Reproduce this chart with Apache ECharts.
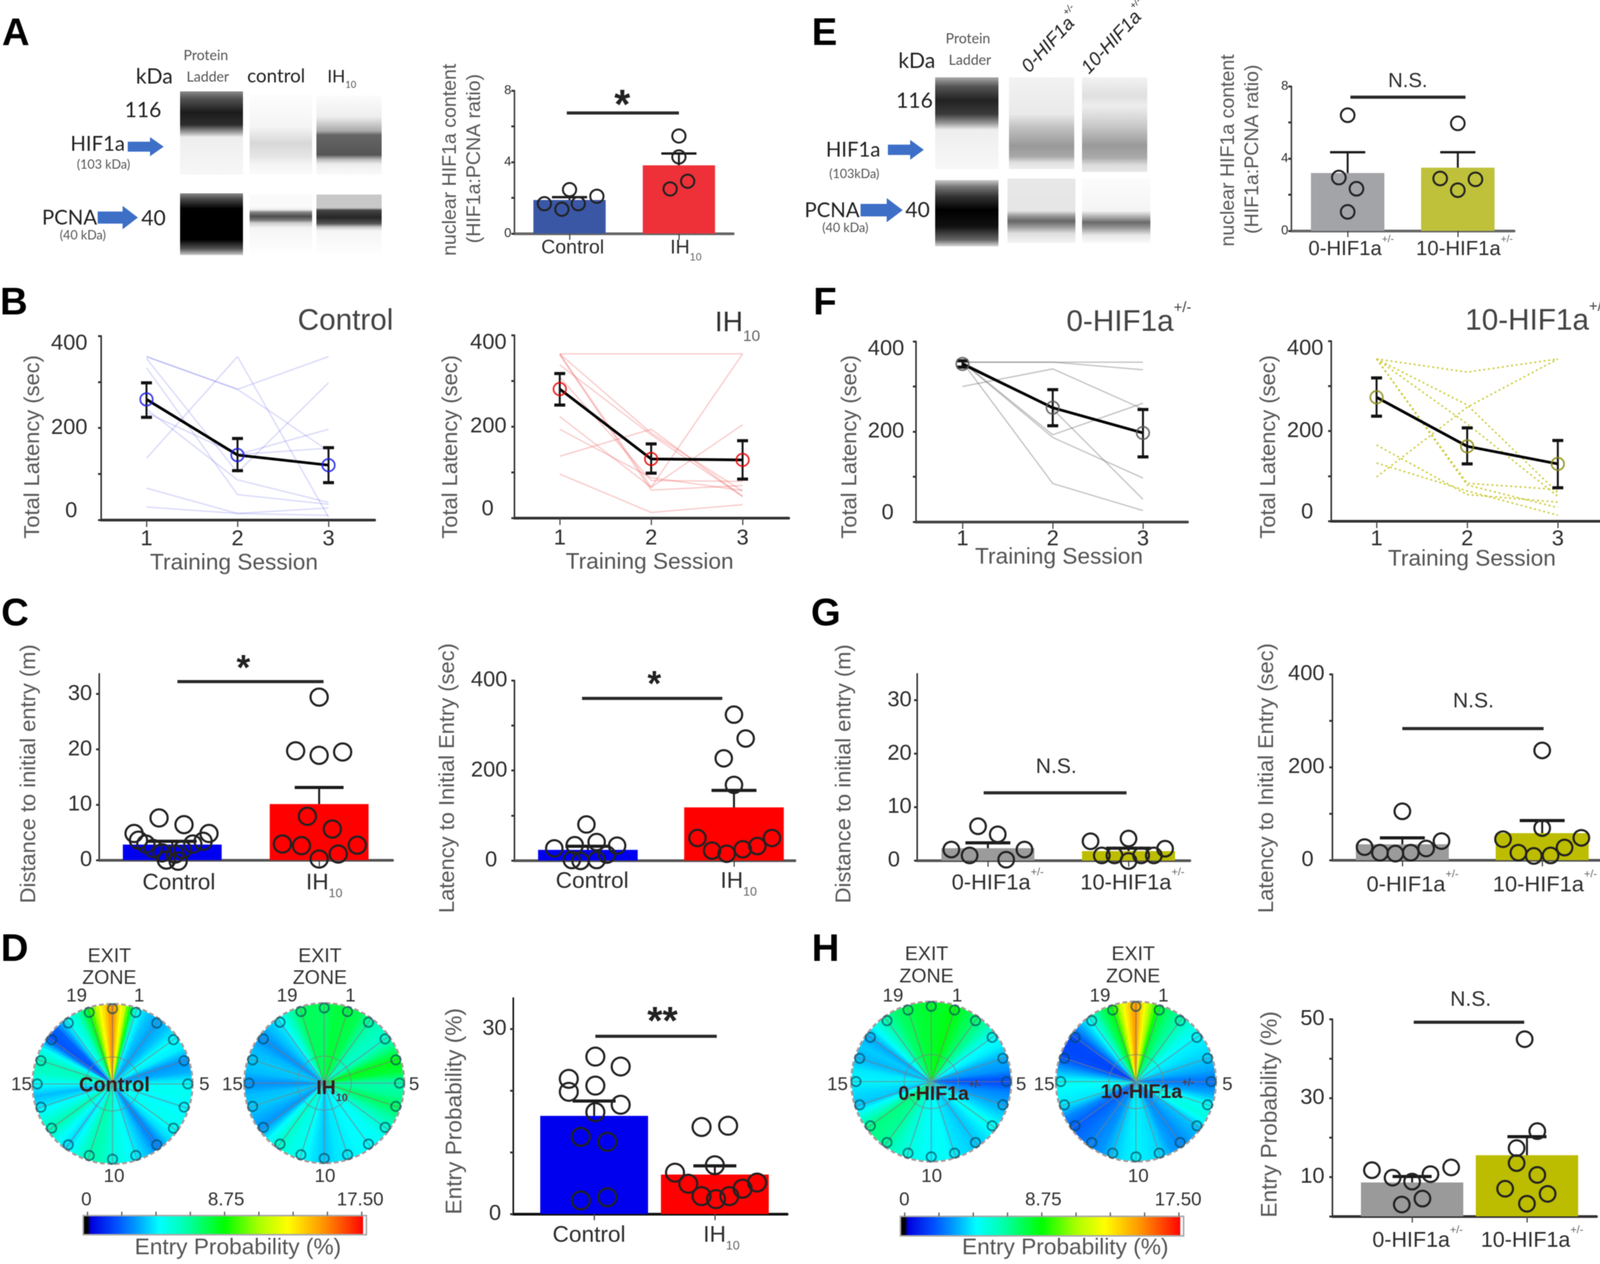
<!DOCTYPE html>
<html><head><meta charset="utf-8">
<style>html,body{margin:0;background:#fff}#c{width:4130px;height:3236px;filter:blur(1.2px)}</style>
<script src="https://cdn.jsdelivr.net/npm/echarts@6/dist/echarts.min.js"></script>
</head><body><div id="c"></div>
<script>
/* ---------- data ---------- */
const catIH=['Control','IH10'];
const catHIF=['0-HIF1a+/-','10-HIF1a+/-'];
const sessions=['1','2','3'];

// A
const a_means=[1.88,3.82], a_err=[2.04,4.48];
const a_pts1=[[.77,1.67],[.93,1.36],[1.08,1.67],[1,2.46],[1.25,2.09]];
const a_pts2=[[1.92,2.5],[2.08,2.93],[2,4.29],[2,5.46]];
// E
const e_means=[3.2,3.5], e_err=[4.35,4.35];
const e_pts1=[[1,6.4],[.92,2.95],[1.08,2.33],[1,1.05]];
const e_pts2=[[2,5.95],[1.84,2.9],[2.16,2.85],[2,2.25]];
// B
const b1_lines=[[355,284,355],[355,284,150],[134,355,6],[331,55,34],[351,103,298],[233,142,156],[265,142,197],[69,14,26],[28,14,10],[241,87,38]];
const b1_mean=[262,141,119], b1_lo=[223,107,81], b1_hi=[298,177,157];
const b2_lines=[[359,359,359],[359,67,359],[359,186,59],[335,182,47],[194,88,60],[135,194,47],[96,12,29],[357,61,71],[308,82,80],[222,67,204]];
const b2_mean=[282,129,127], b2_lo=[247,98,85], b2_hi=[316,162,169];
// F
const f1_lines=[[354,354,354],[354,354,337],[300,339,250],[354,193,263],[354,187,97],[354,250,50],[354,85,25]];
const f1_mean=[350,253,197], f1_lo=[343,213,144], f1_hi=[357,293,249];
const f2_lines=[[360,331,360],[360,258,63],[360,216,55],[360,84,70],[169,59,42],[129,67,13],[98,253,360],[360,80,30]];
const f2_mean=[275,166,127], f2_lo=[233,127,74], f2_hi=[318,207,179];
// C
const c1_means=[2.8,10.1], c1_err=[3.4,13.1];
const c1_pts1=[[.91,7.6],[1.08,6.4],[.74,4.8],[1.25,4.8],[.77,3.6],[1.21,3.4],[.82,2.9],[1.14,2.9],[.87,2.1],[1.07,1.9],[.93,1.3],[1.02,1.1],[.96,0],[1.04,-.2]];
const c1_pts2=[[2,29.4],[1.84,19.7],[2,18.9],[2.16,19.5],[1.92,7.9],[2.09,5.6],[1.75,2.9],[1.88,2.6],[2.26,2.7],[2.13,1.1],[2,.2]];
const c2_means=[23.6,118], c2_err=[31.6,155.7];
const c2_pts1=[[.99,80],[.77,27],[.91,34],[1.06,41],[1.2,33],[1.13,13],[1.06,1],[.95,-1],[.89,1]];
const c2_pts2=[[2,324],[2.08,271],[1.93,227],[2,168],[1.75,50],[1.85,22],[1.95,15],[2.06,25],[2.16,32],[2.26,50]];
// G
const g1_means=[2.3,1.75], g1_err=[3.3,2.3];
const g1_pts1=[[.93,6.4],[1.07,4.9],[.74,2.05],[.87,.95],[1.13,.15],[1.26,2.05]];
const g1_pts2=[[1.73,3.6],[2,4.1],[2.26,2.2],[1.81,.95],[1.9,.95],[2.09,.95],[2.18,.95],[2,-.1]];
const g2_means=[34,58], g2_err=[48,85];
const g2_pts1=[[1,105],[.73,28],[1.28,41],[1.17,25],[.84,16],[.95,14],[1.06,16]];
const g2_pts2=[[2,236],[2,69],[1.72,45],[2.28,48],[2.16,27],[1.83,16],[1.94,9],[2.06,10]];
// D
const d_means=[15.9,6.4], d_err=[18.3,7.8];
const d_pts1=[[1.01,25.5],[1.22,23.9],[.79,21.9],[.79,19.8],[1.01,20.8],[1.22,17.7],[1.01,16.5],[.89,12.5],[1.11,11.7],[.89,2.2],[1.11,2.7]];
const d_pts2=[[1.89,14.1],[2.11,14.3],[2,7.9],[1.67,6.7],[1.78,4.9],[1.89,2.9],[2.01,2.4],[2.12,2.9],[2.23,4.1],[2.35,5.1]];
// H
const h_means=[8.6,15.5], h_err=[10.1,20.2];
const h_pts1=[[.65,11.7],[.83,9.8],[1,8.8],[1.16,10.7],[1.34,12.4],[1.09,4.5],[.91,3]];
const h_pts2=[[1.98,44.9],[2.09,21.6],[1.91,17.3],[1.91,13.5],[2.09,10.5],[1.81,7],[2.18,5.7],[2,3.2]];
// circular maps: entry probability (%) at half-zone steps, clockwise from the top
const map_control=[15.2,11.5,4.9,3.9,3.4,3.9,4.8,4.5,3.2,3.6,4.8,5,4.6,4.9,4.9,4.2,2.8,3.8,4.5,5,5.3,6.1,6.3,5.3,4.2,5,6.3,5.3,4.5,3.8,4.8,5.8,6.1,4.9,2.1,2.4,4.6,5.8,8.4,12.5];
const map_ih=[7.4,7.9,7.9,7.6,6.6,6,5.8,7,8.5,8,6.3,6.6,7.5,6.5,5.5,4.9,4.7,4.7,4.5,4.4,3.9,4.4,5,5.2,5.8,4.7,3.2,3.6,4,3.8,3.1,3.8,4,3.7,3.1,3.8,4.4,6,7.5,7.5];
const map_0hif=[8.2,8.3,8.6,7.8,7.2,6.3,4.9,4.5,3.6,3.2,1.9,3,3.5,4.2,5,4.4,3.9,4.2,4.4,4.9,4.6,5,5.3,5.8,6.6,6.8,7,5.5,3.9,4.2,4.6,4.4,3.7,4,3.5,5,6.3,7.2,7.7,8];
const map_10hif=[15,11.5,8,7,6.3,5.3,4.6,4.4,4,3.5,2.6,3.5,4.9,5.3,3.9,3.5,3,3.4,4.2,4.4,4.6,4.4,3.9,3.2,2.9,2.6,2.3,3,4.4,4.6,4.9,3.5,2.1,1.9,2,3.5,5,7,8.5,12.5];
const zoneIds=[0,1,2,3,4,5,6,7,8,9,10,11,12,13,14,15,16,17,18,19];
const colorbarStops=[[0,'#000'],[.018,'#000'],[.03,'#0000e0'],[.12,'#0050ff'],[.19,'#009cff'],[.27,'#00ffff'],[.36,'#00ffb0'],[.5,'#00ff00'],[.62,'#aaff00'],[.72,'#ffff00'],[.85,'#ff9000'],[.975,'#ff1000'],[.985,'#ff0000'],[.986,'#fff'],[1,'#fff']];
// gel lane density profiles (position along lane, grey level)
const gelA_lad1=[[0,'#8a8a8a'],[.08,'#555'],[.25,'#1c1c1c'],[.4,'#2c2c2c'],[.5,'#aaa'],[.55,'#eee'],[1,'#f7f7f7']];
const gelA_c1=[[0,'#fdfdfd'],[.4,'#f5f5f5'],[.61,'#d8d8d8'],[.78,'#e6e6e6'],[.88,'#f5f5f5'],[1,'#fbfbfb']];
const gelA_i1=[[0,'#fcfcfc'],[.27,'#eee'],[.45,'#aaa'],[.5,'#666'],[.75,'#555'],[.81,'#bbb'],[.87,'#eee'],[1,'#fafafa']];
const gelA_lad2=[[0,'#888'],[.1,'#444'],[.25,'#000'],[.75,'#000'],[.9,'#555'],[1,'#ccc']];
const gelA_c2=[[0,'#fafafa'],[.2,'#fafafa'],[.25,'#eee'],[.29,'#888'],[.36,'#4d4d4d'],[.42,'#777'],[.47,'#ccc'],[.55,'#f5f5f5'],[1,'#fff']];
const gelA_i2=[[0,'#c8c8c8'],[.22,'#c8c8c8'],[.26,'#444'],[.38,'#262626'],[.48,'#555'],[.54,'#ccc'],[.6,'#f5f5f5'],[1,'#fff']];
const gelE_lad1=[[0,'#aaa'],[.1,'#555'],[.25,'#222'],[.4,'#3a3a3a'],[.5,'#999'],[.57,'#eee'],[1,'#f8f8f8']];
const gelE_a1=[[0,'#f2f2f2'],[.4,'#eaeaea'],[.55,'#c0c0c0'],[.75,'#999'],[.86,'#a8a8a8'],[.93,'#e0e0e0'],[1,'#eee']];
const gelE_b1=[[0,'#f2f2f2'],[.2,'#e0e0e0'],[.3,'#eee'],[.5,'#ccc'],[.72,'#9a9a9a'],[.85,'#aaa'],[.93,'#ddd'],[1,'#e6e6e6']];
const gelE_lad2=[[0,'#ccc'],[.1,'#777'],[.25,'#333'],[.45,'#000'],[.7,'#111'],[.9,'#666'],[1,'#ddd']];
const gelE_a2=[[0,'#e8e8e8'],[.5,'#e6e6e6'],[.58,'#999'],[.66,'#666'],[.75,'#999'],[.85,'#ddd'],[1,'#f5f5f5']];
const gelE_b2=[[0,'#fcfcfc'],[.5,'#f5f5f5'],[.6,'#aaa'],[.68,'#6a6a6a'],[.77,'#999'],[.88,'#e8e8e8'],[1,'#fafafa']];

/* ---------- helpers ---------- */
const FF='Liberation Sans', LATO='Lato';
const grids=[],xAxes=[],yAxes=[],series=[],gfx=[],polars=[],angleAxes=[],radiusAxes=[];

function parts(label){
  if(label==='IH10') return ['IH','s','10'];
  if(label.endsWith('+/-')) return [label.slice(0,-3),'u','+/-'];
  return [label,null,null];
}
function rt(label,F,o={}){
  const [m,k,e]=parts(label);
  const c=o.color||'#2e2e2e', fam=o.family||FF, w=o.weight||'normal', st=o.style||'normal';
  const base={fontFamily:fam,fontWeight:w,fontStyle:st};
  const rich={m:{...base,fontSize:F,lineHeight:F*1.5,color:c,fill:c},
    s:{...base,fontSize:F*.55,verticalAlign:'bottom',color:o.subColor||c,fill:o.subColor||c},
    u:{...base,fontSize:F*.5,lineHeight:F*.5,verticalAlign:'top',color:o.subColor||c,fill:o.subColor||c}};
  return {text:k?`{m|${m}}{${k}|${e}}`:`{m|${m}}`,rich};
}
function t(x,base,label,F,o={}){
  const r=rt(label,F,o);
  gfx.push({type:'text',x:x,y:base-.35*F,rotation:o.rot||0,z:20,
    style:{x:0,y:0,text:r.text,rich:r.rich,align:o.align||'center',verticalAlign:'middle'}});
}
function ytitle(cx,cy,label,F,o={}){
  gfx.push({type:'text',x:cx,y:cy,rotation:Math.PI/2,z:20,
    style:{x:0,y:0,text:label,align:'center',verticalAlign:'middle',fill:o.color||'#5a5a5a',
      font:`${F}px "Liberation Sans"`}});
}
function star(x,cy,s,F){
  gfx.push({type:'text',x:x,y:cy+.23*F,z:20,style:{x:0,y:0,text:s,align:'center',verticalAlign:'middle',fill:'#222',font:`bold ${F}px "Liberation Sans"`}});
}
function gel(x1,y1,x2,y2,stops){
  gfx.push({type:'rect',z:1,shape:{x:x1,y:y1,width:x2-x1,height:y2-y1},
    style:{fill:new echarts.graphic.LinearGradient(0,0,0,1,stops.map(s=>({offset:s[0],color:s[1]})))}});
}
function arrow(x1,y1,x2,y2){
  const h=y2-y1,w=x2-x1,hx=x1+.62*w,m=(y1+y2)/2,sh=.26*h;
  gfx.push({type:'polygon',z:2,shape:{points:[[x1,m-sh],[hx,m-sh],[hx,y1],[x2,m],[hx,y2],[hx,m+sh],[x1,m+sh]]},style:{fill:'#3d6fc7'}});
}
function addAxes(p){
  const i=grids.length;
  grids.push({left:p.L,top:p.T,width:p.R-p.L,height:p.B-p.T});
  const unit=p.cx[1]-p.cx[0];
  const xmin=1-(p.cx[0]-p.L)/unit, xmax=2+(p.R-p.cx[1])/unit;
  const xLab=p.xlabels, xv=xLab.map((_,k)=>k+1), F=p.xF;
  const rich={};
  const shifts=p.xShift||xLab.map(()=>0);
  xLab.forEach((lab,k)=>{
    const r=rt(lab,F,{color:p.xColor||'#2e2e2e',subColor:'#666'});
    const sh=shifts[k]||0;
    rich['m'+k]={...r.rich.m,padding:[0,0,0,sh>0?2*sh:0]};
    rich['e'+k]={...(parts(lab)[1]==='s'?r.rich.s:r.rich.u),padding:[0,sh<0?-2*sh:0,0,0]};
    if(sh<0&&!parts(lab)[1]) rich['m'+k].padding=[0,-2*sh,0,0];
  });
  xAxes.push({gridIndex:i,type:'value',min:xmin,max:xmax,
    axisLine:{show:true,onZero:false,lineStyle:{color:p.xAxisColor||'#555',width:p.xAxisW||7}},
    axisTick:{show:true,customValues:xv,length:p.xTick||16,lineStyle:{color:'#444',width:3}},
    splitLine:{show:false},
    axisLabel:{show:true,customValues:xv,margin:p.xBase-p.B-1.1*F,rich,
      formatter:v=>{const k=Math.round(v)-1,[m,kk,e]=parts(xLab[k]);return kk?`{m${k}|${m}}{e${k}|${e}}`:`{m${k}|${m}}`;}}});
  const yrich={n:{fontSize:p.yF,fontFamily:FF,color:'#2e2e2e'},
    dn:{fontSize:p.yF,fontFamily:FF,color:'#2e2e2e',padding:[2*(p.yDn||0),0,0,0]},
    up:{fontSize:p.yF,fontFamily:FF,color:'#2e2e2e',padding:[0,p.yZeroR||0,2*(p.yUp||0),0]}};
  yAxes.push({gridIndex:i,type:'value',min:0,max:p.ymax,
    axisLine:{show:true,onZero:false,lineStyle:{color:p.yAxisColor||'#333',width:4}},
    axisTick:{show:true,customValues:p.yticks,length:8,lineStyle:{color:'#333',width:5}},
    splitLine:{show:false},
    axisLabel:{show:true,customValues:p.ylabels,margin:p.yMargin||12,rich:yrich,
      formatter:v=>{const key=(v===p.ylabels[p.ylabels.length-1]&&p.yDn)?'dn':(v===0&&(p.yUp||p.yZeroR))?'up':'n';return `{${key}|${v}}`;}}});
  return i;
}
const errRender=(cap,lw,capW,col)=>(pa,api)=>{
  const x=api.value(0),a=api.coord([x,api.value(1)]),b=api.coord([x,api.value(2)]);
  const ln=(x1,y1,x2,y2,w)=>({type:'line',shape:{x1,y1,x2,y2},style:{stroke:col,lineWidth:w}});
  const ch=[ln(a[0],a[1],b[0],b[1],lw),ln(b[0]-cap/2,b[1],b[0]+cap/2,b[1],capW)];
  if(api.value(3)) ch.push(ln(a[0]-cap/2,a[1],a[0]+cap/2,a[1],capW));
  return {type:'group',children:ch};
};
function barPanel(p,means,errs,pts1,pts2,colors,sig){
  const i=addAxes(p);
  series.push({type:'bar',xAxisIndex:i,yAxisIndex:i,barWidth:p.barW,z:2,barGap:'-100%',
    data:means.map((v,k)=>({value:[k+1,v],itemStyle:{color:colors[k]}}))});
  series.push({type:'custom',xAxisIndex:i,yAxisIndex:i,z:5,clip:false,encode:{x:0,y:[1,2]},
    renderItem:errRender(p.cap,p.errW||5,p.capW||8,'#1a1a1a'),data:means.map((v,k)=>[k+1,v,errs[k],0])});
  [pts1,pts2].forEach(d=>series.push({type:'scatter',xAxisIndex:i,yAxisIndex:i,z:6,clip:false,
    symbol:'circle',symbolSize:p.dot,
    itemStyle:{color:'rgba(0,0,0,0)',borderColor:'#222',borderWidth:p.dotW||5,opacity:1},data:d}));
  series.push({type:'line',xAxisIndex:i,yAxisIndex:i,z:4,clip:false,symbol:'none',
    lineStyle:{color:'#2a2a2a',width:p.sigW||8},data:sig});
}
function linePanel(p,lines,mean,lo,hi,lineStyle,markCol){
  const i=addAxes(p);
  const xs=sessions.map(Number);
  lines.forEach(l=>series.push({type:'line',xAxisIndex:i,yAxisIndex:i,z:2,symbol:'none',clip:false,
    lineStyle,data:l.map((v,k)=>[xs[k],v])}));
  series.push({type:'line',xAxisIndex:i,yAxisIndex:i,z:4,symbol:'none',clip:false,
    lineStyle:{color:'#000',width:7},data:mean.map((v,k)=>[xs[k],v])});
  series.push({type:'custom',xAxisIndex:i,yAxisIndex:i,z:5,clip:false,encode:{x:0,y:[1,2]},
    renderItem:errRender(28,5,8,'#111'),data:mean.map((v,k)=>[xs[k],lo[k],hi[k],1])});
  series.push({type:'scatter',xAxisIndex:i,yAxisIndex:i,z:6,clip:false,symbol:'circle',symbolSize:32,
    itemStyle:{color:'rgba(0,0,0,0)',borderColor:markCol,borderWidth:4.5},data:mean.map((v,k)=>[xs[k],v])});
}
function jet(v){
  const f=Math.min(1,Math.max(0,v/17.5));
  for(let k=1;k<colorbarStops.length;k++){
    if(f<=colorbarStops[k][0]){
      const a=colorbarStops[k-1],b=colorbarStops[k];
      const u=(f-a[0])/((b[0]-a[0])||1);
      const ca=echarts.color.parse(a[1]),cb=echarts.color.parse(b[1]);
      return `rgb(${[0,1,2].map(n=>Math.round(ca[n]+(cb[n]-ca[n])*u)).join(',')})`;
    }
  }
  return '#f00';
}
// shading of the map: each read sample is blended towards the next across a few thin sectors, as a heat map does
function shade(vals,steps){
  const out=[];
  vals.forEach((v,k)=>{const nx=vals[(k+1)%vals.length];
    for(let s=0;s<steps;s++) out.push(v+(nx-v)*s/steps);});
  return out;
}
function zoneMap(cx,cy,vals){
  const i=polars.length;
  polars.push({center:[cx,cy],radius:205});
  angleAxes.push({polarIndex:i,type:'value',min:0,max:20,interval:1,startAngle:90,clockwise:true,z:3,
    axisLine:{show:true,lineStyle:{color:'#a89a9a',width:5,type:[12,7]}},axisTick:{show:false},axisLabel:{show:false},
    splitLine:{show:true,lineStyle:{color:'rgba(120,130,130,.6)',width:3}}});
  radiusAxes.push({polarIndex:i,type:'value',min:0,max:1,axisLine:{show:false},axisTick:{show:false},axisLabel:{show:false},splitLine:{show:false}});
  const sh=shade(vals,4);
  series.push({type:'pie',center:[cx,cy],radius:[0,203],startAngle:91.125,clockwise:true,z:1,silent:true,
    label:{show:false},labelLine:{show:false},avoidLabelOverlap:false,
    data:sh.map(v=>({value:1,itemStyle:{color:jet(v),borderColor:jet(v),borderWidth:1}}))});
  series.push({type:'line',coordinateSystem:'polar',polarIndex:i,z:3,symbol:'none',silent:true,
    lineStyle:{color:'rgba(120,130,130,.55)',width:3},data:zoneIds.concat([20]).map(z=>[.34,z])});
  series.push({type:'scatter',coordinateSystem:'polar',polarIndex:i,z:4,symbol:'circle',symbolSize:24,silent:true,
    itemStyle:{color:'rgba(0,0,0,0)',borderColor:'rgba(0,70,90,.8)',borderWidth:4.5},data:zoneIds.map(z=>[.94,z])});
}
function colorbar(x1,y1,x2,y2,tx1,tx2){
  gfx.push({type:'rect',z:2,shape:{x:x1,y:y1,width:x2-x1,height:y2-y1},
    style:{fill:new echarts.graphic.LinearGradient(0,0,1,0,colorbarStops.map(s=>({offset:s[0],color:s[1]}))),stroke:'#aaa',lineWidth:4}});
  for(let k=0;k<9;k++){const x=tx1+(tx2-tx1)*k/8;
    gfx.push({type:'line',z:2,shape:{x1:x,y1:y1-10,x2:x,y2:y1},style:{stroke:'#555',lineWidth:3}});}
}

/* ---------- panels ---------- */
const yLatency={ymax:400,yticks:[0,100,200,300,400],ylabels:[0,200,400],yF:56,yDn:20,yUp:22};
const xSess={xlabels:sessions,xF:56,xTick:18};

barPanel({L:1317,R:1877,T:232,B:598,cx:[1458,1738],ymax:8,yticks:[0,2,4,6,8],ylabels:[0,4,8],yF:33,yMargin:8,
  xlabels:catIH,xF:50,xBase:653,xShift:[8,18],barW:185,cap:90,capW:6,dot:34,dotW:5,xAxisColor:'#666',yAxisColor:'#444'},
  a_means,a_err,a_pts1,a_pts2,['#3a57a6','#ee3038'],[[.975,6.75],[2,6.75]]);
barPanel({L:3306,R:3876,T:221,B:591,cx:[3450,3732],ymax:8,yticks:[0,2,4,6,8],ylabels:[0,4,8],yF:33,yMargin:8,
  xlabels:catHIF,xF:52,xBase:657,xShift:[9,17],barW:188,cap:90,capW:6,dot:35,dotW:5,xAxisColor:'#666',yAxisColor:'#444'},
  e_means,e_err,e_pts1,e_pts2,['#a2a4a7','#bfc13b'],[[1.025,7.4],[2.07,7.4]]);

linePanel({L:259,R:959,T:860,B:1331,cx:[375,608],...yLatency,yMargin:35,yZeroR:26,...xSess,xBase:1400,xAxisColor:'#333'},b1_lines,b1_mean,b1_lo,b1_hi,{color:'rgba(90,90,235,.22)',width:3.5},'#1a1ae6');
linePanel({L:1317,R:2019,T:858,B:1326,cx:[1433,1667],...yLatency,yMargin:20,yZeroR:33,...xSess,xBase:1398,xAxisColor:'#333'},b2_lines,b2_mean,b2_lo,b2_hi,{color:'rgba(240,90,90,.3)',width:3.5},'#e60000');
linePanel({L:2345,R:3040,T:874,B:1336,cx:[2464,2695],...yLatency,yMargin:30,yZeroR:27,...xSess,xBase:1400,xAxisColor:'#444'},f1_lines,f1_mean,f1_lo,f1_hi,{color:'rgba(120,120,120,.42)',width:3.5},'#555');
linePanel({L:3408,R:4100,T:873,B:1334,cx:[3524,3756],...yLatency,yMargin:20,yZeroR:26,...xSess,xBase:1400,xAxisColor:'#333'},f2_lines,f2_mean,f2_lo,f2_hi,{color:'rgba(200,200,40,.9)',width:4,type:[5,7]},'#8a8a10');

barPanel({L:254,R:1005,T:1725,B:2202,cx:[441,817],ymax:33.6,yticks:[0,10,20,30],ylabels:[0,10,20,30],yF:56,yMargin:18,
  xlabels:catIH,xF:58,xBase:2281,xShift:[17,13],barW:253,cap:125,dot:44,dotW:5.5},
  c1_means,c1_err,c1_pts1,c1_pts2,['#0000f0','#ff0000'],[[1.035,32.2],[2.03,32.2]]);
barPanel({L:1317,R:2035,T:1742,B:2203,cx:[1505,1879],ymax:400,yticks:[0,100,200,300,400],ylabels:[0,200,400],yF:56,yMargin:18,yZeroR:26,
  xlabels:catIH,xF:58,xBase:2277,xShift:[11,12],barW:255,cap:115,dot:42,dotW:5.5},
  c2_means,c2_err,c2_pts1,c2_pts2,['#0000f0','#ff0000'],[[.96,360],[1.92,360]]);
barPanel({L:2348,R:3046,T:1725,B:2203,cx:[2529,2889],ymax:34.9,yticks:[0,10,20,30],ylabels:[0,10,20,30],yF:56,yMargin:14,yZeroR:30,
  xlabels:catHIF,xF:56,xBase:2281,xShift:[25,10],barW:238,cap:115,dot:40,dotW:5.5},
  g1_means,g1_err,g1_pts1,g1_pts2,['#9b9b9b','#bdbd00'],[[.97,12.65],[1.986,12.65]]);
barPanel({L:3411,R:4123,T:1726,B:2202,cx:[3590,3948],ymax:400,yticks:[0,100,200,300,400],ylabels:[0,200,400],yF:56,yMargin:20,yZeroR:28,
  xlabels:catHIF,xF:56,xBase:2286,xShift:[26,7],barW:238,cap:115,dot:40,dotW:5.5},
  g2_means,g2_err,g2_pts1,g2_pts2,['#9b9b9b','#bdbd00'],[[1,283],[2.01,283]]);
barPanel({L:1314,R:2015,T:2555,B:3108,cx:[1521,1830],ymax:35,yticks:[0,10,20,30],ylabels:[0,30],yF:56,yMargin:17,yZeroR:14,
  xlabels:catIH,xF:58,xBase:3183,xShift:[-13,17],barW:276,cap:110,dot:46,dotW:5.5,xAxisColor:'#111',yAxisColor:'#111'},
  d_means,d_err,d_pts1,d_pts2,['#0000ee','#ff0000'],[[1.01,28.8],[2.016,28.8]]);
barPanel({L:3411,R:4087,T:2609,B:3114,cx:[3615,3909],ymax:50,yticks:[0,10,20,30,40,50],ylabels:[10,30,50],yF:56,yMargin:20,
  xlabels:catHIF,xF:55,xBase:3196,xShift:[14,13],barW:262,cap:100,dot:40,dotW:5.5,xAxisColor:'#333'},
  h_means,h_err,h_pts1,h_pts2,['#9a9a9a','#bcbc00'],[[1.014,49.2],[1.976,49.2]]);

zoneMap(288,2775,map_control);
zoneMap(830,2773,map_ih);
zoneMap(2384,2769,map_0hif);
zoneMap(2908,2769,map_10hif);

/* ---------- panel letters ---------- */
[['A',5,122],['E',2078,122],['B',0,812],['F',2082,812],['C',3,1608],['G',2076,1608],['D',2,2467],['H',2078,2467]]
 .forEach(a=>t(a[1],a[2],a[0],98,{weight:'bold',color:'#000',align:'left'}));

/* ---------- gels A ---------- */
gel(461,234,622,447,gelA_lad1);gel(639,241,799,447,gelA_c1);gel(810,244,977,447,gelA_i1);
gel(461,495,622,653,gelA_lad2);gel(639,498,799,653,gelA_c2);gel(810,498,977,653,gelA_i2);
arrow(327,351,419,400);arrow(250,527,353,587);
const gl={family:LATO,color:'#222'},gls={family:LATO,color:'#555'};
t(527,155,'Protein',36,gls);t(532,210,'Ladder',36,gls);t(395,215,'kDa',54,gl);t(707,212,'control',48,gl);t(875,212,'IH10',44,{...gl,subColor:'#555'});
t(366,301,'116',54,gl);t(250,387,'HIF1a',52,gl);t(265,433,'(103 kDa)',32,gls);
t(178,576,'PCNA',52,gl);t(212,614,'(40 kDa)',32,gls);t(393,578,'40',54,gl);
/* ---------- gels E ---------- */
gel(2394,198,2556,433,gelE_lad1);gel(2583,198,2750,433,gelE_a1);gel(2770,198,2937,440,gelE_b1);
gel(2394,461,2556,631,gelE_lad2);gel(2579,457,2753,622,gelE_a2);gel(2770,457,2945,622,gelE_b2);
arrow(2273,358,2365,409);arrow(2203,507,2311,569);
t(2478,112,'Protein',36,gls);t(2483,167,'Ladder',36,gls);t(2347,175,'kDa',54,gl);
t(2341,277,'116',54,gl);t(2184,402,'HIF1a',52,gl);t(2187,457,'(103kDa)',32,gls);
t(2130,557,'PCNA',52,gl);t(2164,595,'(40 kDa)',32,gls);t(2349,557,'40',54,gl);
const rotO={align:'left',style:'italic',rot:47*Math.PI/180,color:'#222'};
t(2625,196,'0-HIF1a+/-',48,rotO);t(2778,199,'10-HIF1a+/-',48,rotO);

/* ---------- titles and annotations ---------- */
ytitle(1153,409,'nuclear HIF1a content',50);ytitle(1215,406,'(HIF1a:PCNA ratio)',50);
ytitle(3145,385,'nuclear HIF1a content',50);ytitle(3207,382,'(HIF1a:PCNA ratio)',50);
star(1593,250,'*',105);
t(3604,227,'N.S.',52);
t(1007,850,'Control',76,{align:'right',color:'#444'});
t(1830,853,'IH10',72,{align:'left',color:'#333',subColor:'#666'});
t(2730,853,'0-HIF1a+/-',76,{align:'left',color:'#444'});
t(3751,850,'10-HIF1a+/-',76,{align:'left',color:'#444'});
[85,1155,2177,3249].forEach(x=>ytitle(x,1144,'Total Latency (sec)',56));
[[599,1462],[1663,1460],[2711,1447],[3768,1452]].forEach(a=>t(a[0],a[1],'Training Session',58,{color:'#555'}));
ytitle(75,1981,'Distance to initial entry (m)',56);ytitle(1147,1992,'Latency to Initial Entry (sec)',56);
ytitle(2162,1981,'Distance to initial entry (m)',56);ytitle(3244,1992,'Latency to Initial Entry (sec)',56);
star(623,1694,'*',90);star(1675,1735,'*',90);star(1696,2596,'**',100);
t(2704,1983,'N.S.',54);t(3772,1815,'N.S.',54);t(3765,2579,'N.S.',54);
ytitle(1165,2845,'Entry Probability (%)',58);ytitle(3252,2853,'Entry Probability (%)',58);

const ml={color:'#333'};
[[280,196,356,523,55,292],[819,735,897,1060,595,832]].forEach(m=>{
  t(m[0],2467,'EXIT',50,ml);t(m[0],2523,'ZONE',50,ml);
  t(m[1],2568,'19',48,ml);t(m[2],2568,'1',48,ml);t(m[3],2795,'5',48,ml);t(m[4],2795,'15',48,ml);t(m[5],3030,'10',48,ml);
});
[[2372,2286,2450,2614,2144,2385],[2901,2816,2978,3142,2673,2914]].forEach(m=>{
  t(m[0],2462,'EXIT',50,ml);t(m[0],2519,'ZONE',50,ml);
  t(m[1],2568,'19',48,ml);t(m[2],2568,'1',48,ml);t(m[3],2795,'5',48,ml);t(m[4],2795,'15',48,ml);t(m[5],3030,'10',48,ml);
});
const ctr={weight:'bold',color:'#3a1a1a',subColor:'#5a3a3a'};
t(293,2798,'Control',51,ctr);t(850,2805,'IH10',50,ctr);t(2405,2820,'0-HIF1a+/-',50,ctr);t(2937,2815,'10-HIF1a+/-',50,ctr);

colorbar(213,3112,938,3161,224,926);
colorbar(2305,3114,3030,3164,2316,3018);
[[221,579,922,609],[2315,2671,3016,2727]].forEach(c=>{
  t(c[0],3090,'0',48,ml);t(c[1],3090,'8.75',48,ml);t(c[2],3090,'17.50',48,ml);
  t(c[3],3215,'Entry Probability (%)',58,{color:'#555'});
});

/* ---------- chart ---------- */
const chart=echarts.init(document.getElementById('c'),null,{renderer:'canvas',width:4130,height:3236,devicePixelRatio:1});
chart.setOption({animation:false,backgroundColor:'#fff',tooltip:{show:false},legend:{show:false},
  grid:grids,xAxis:xAxes,yAxis:yAxes,polar:polars,angleAxis:angleAxes,radiusAxis:radiusAxes,series,graphic:{elements:gfx}});
</script></body></html>
